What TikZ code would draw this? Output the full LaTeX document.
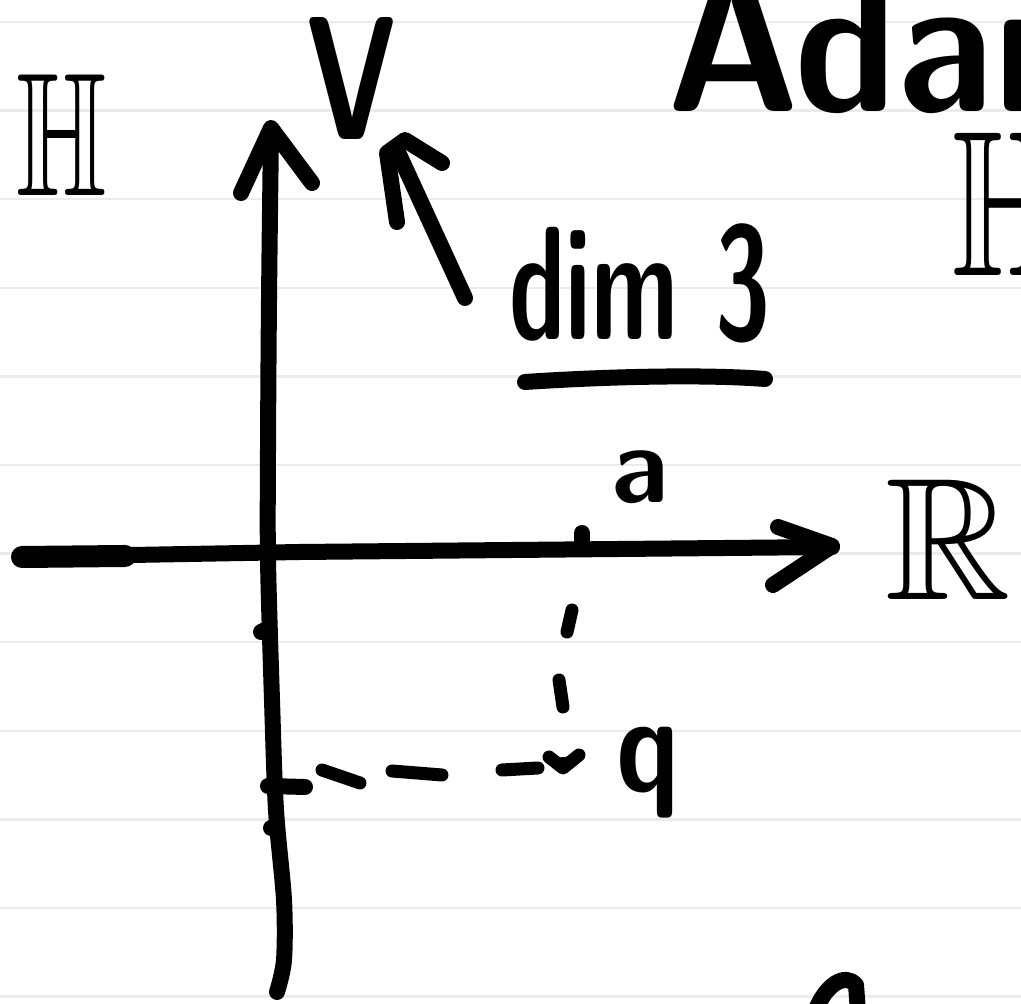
\documentclass[tikz,border=0pt]{standalone}
\usepackage{amssymb}
\begin{document}
\begin{tikzpicture}[x=0.01cm,y=-0.01cm,
  ink/.style={line width=0.16cm, line cap=round, line join=round},
  dashink/.style={line width=0.13cm, line cap=round, line join=round},
  ruling/.style={line width=0.025cm, black!8},
  lbl/.style={inner sep=0pt, outer sep=0pt},
  hand/.style={lbl, font=\sffamily\bfseries}]
\useasboundingbox (0,0) rectangle (1021,1004);
\clip (0,0) rectangle (1021,1004);
\fill[white] (0,0) rectangle (1021,1004);
\foreach \k in {0,...,11} {\draw[ruling] (0,{22+88.6*\k}) -- (1021,{22+88.6*\k});}

% labels
\node[lbl, anchor=base, xscale=3.3, yscale=5.0] (Hl) at (62,196) {$\mathbb{H}$};
\node[hand, anchor=base, xscale=3.5, yscale=5.0] (Vl) at (352,140) {V};
\node[hand, anchor=base, xscale=2.85, yscale=4.6] (dim) at (640,340) {dim 3};
\node[hand, anchor=base, scale=3.1] (al) at (640,503) {a};
\node[lbl, anchor=base, scale=4.95] (Rl) at (948,600) {$\mathbb{R}$};
\node[hand, anchor=base, xscale=3.2, yscale=3.9] (ql) at (648,792) {q};
\node[hand, anchor=base west, xscale=5.2, yscale=5.6] (adam) at (666,112) {Adam};
\node[lbl, anchor=base west, xscale=3.9, yscale=5.9] (Hr) at (952,276) {$\mathbb{H}$};

% coordinates
\coordinate (vtail) at (465,298);
\coordinate (vtip) at (397,150);

% x axis
\draw[line width=0.22cm, line cap=round] (22,557) -- (125,556);
\draw[ink] (20,557) -- (300,552) -- (832,547);
\draw[ink] (778,527) -- (832,546) -- (773,585);
\draw[ink] (582,533) -- (582,548);

% y axis
\draw[ink] plot[smooth] coordinates {(271,132) (269,300) (268,450) (268,560) (272,700) (276,810) (284,900) (284,960) (277,992)};
\draw[ink] (241,193) -- (271,128) -- (312,183);
\draw[ink] (268,786) -- (305,787);
\draw[ink] (261,632) -- (267,629);
\draw[ink] (271,828) -- (276,826);

% arrow to V
\draw[ink] (vtail) -- (vtip);
\draw[ink] (397,222) -- (387,153) -- (405,140) -- (442,163);

% underline
\draw[ink] (525,382) .. controls (600,377) and (700,374) .. (765,379);

% dashed projections
\draw[dashink] (322,770) -- (360,783);
\draw[dashink] (392,771) -- (442,775);
\draw[dashink] (502,770) -- (538,768);
\draw[dashink] (549,757) -- (563,768) -- (579,755);
\fill (552,758) -- (577,756) -- (563,770) -- cycle;
\draw[dashink] (572,610) -- (567,632);
\draw[dashink] (559,680) -- (563,707);

% bottom fragment
\draw[ink] (815,1012) .. controls (825,985) and (845,972) .. (856,985) -- (858,1012);
\end{tikzpicture}
\end{document}
